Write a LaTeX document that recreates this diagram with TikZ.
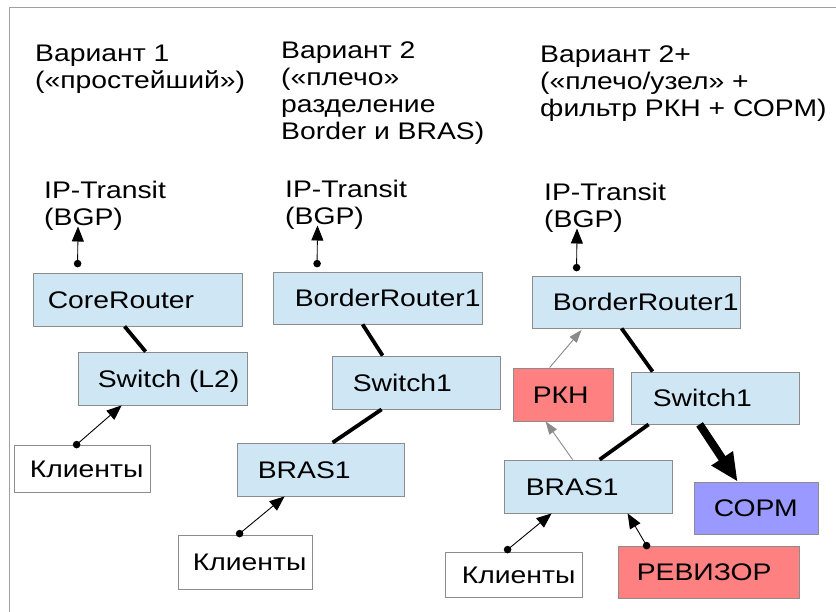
\documentclass[tikz,border=0pt]{standalone}
\usepackage{fontspec}
\setmainfont{Liberation Sans}[FakeStretch=1.18]
\usetikzlibrary{arrows.meta}
\definecolor{boxblue}{HTML}{CFE7F5}
\definecolor{boxred}{HTML}{FF8080}
\definecolor{boxviolet}{HTML}{9999FF}
\definecolor{edgegray}{HTML}{8C8C8C}
\definecolor{framegray}{HTML}{A0A0A0}
\definecolor{arrowgray}{HTML}{8A8A8A}
\begin{document}
\begin{tikzpicture}[x=1pt,y=-1pt,
  txt/.style={font=\fontsize{24pt}{26.7pt}\selectfont, inner sep=0pt},
  title/.style={txt, anchor=north west, align=left},
  lbl/.style={txt, anchor=west, text height=17.2pt, text depth=0pt},
  bx/.style={draw=edgegray, line width=0.8pt, fill=boxblue, inner sep=0pt},
  wbx/.style={bx, fill=white},
  rbx/.style={bx, fill=boxred},
  vbx/.style={bx, fill=boxviolet},
  ar/.style={-{Triangle[length=15pt,width=12pt]}, line width=0.9pt, black},
  gar/.style={-{Triangle[length=13pt,width=9pt]}, line width=0.9pt, arrowgray},
  thk/.style={line width=3.8pt, black},
  bigar/.style={-{Triangle[length=28pt,width=24pt]}, line width=8pt, black},
  dotr/.style={black}
]
\path[use as bounding box, fill=white] (0,0) rectangle (836,612);
\draw[framegray, line width=1pt] (836,8) -- (9,8) -- (9,612);

% titles
\node[title] (t1) at (35,45) {Вариант 1\\(«простейший»)};
\node[title] (t2) at (281,42) {Вариант 2\\(«плечо»\\разделение\\Border и BRAS)};
\node[title] (t3) at (540,46) {Вариант 2+\\(«плечо/узел» +\\фильтр РКН + СОРМ)};

% IP transit labels
\node[title] (ipt1) at (44,181) {IP-Transit\\(BGP)};
\node[title] (ipt2) at (285,180) {IP-Transit\\(BGP)};
\node[title] (ipt3) at (544,183) {IP-Transit\\(BGP)};

% column 1
\node[bx, minimum width=209, minimum height=53] (core) at (137.5,299.5) {};
\node[lbl] (coreT) at ([xshift=15pt]core.west) {CoreRouter};
\node[bx, minimum width=169, minimum height=53] (sw1) at (162.5,378.5) {};
\node[lbl] (sw1T) at ([xshift=20pt]sw1.west) {Switch (L2)};
\node[wbx, minimum width=136, minimum height=47] (kl1) at (82,468.5) {};
\node[lbl] (kl1T) at ([xshift=16pt]kl1.west) {Клиенты};

% column 2
\node[bx, minimum width=209, minimum height=52] (br2) at (377.5,298) {};
\node[lbl] (br2T) at ([xshift=22pt]br2.west) {BorderRouter1};
\node[bx, minimum width=168, minimum height=53] (sw2) at (416,382.5) {};
\node[lbl] (sw2T) at ([xshift=21pt]sw2.west) {Switch1};
\node[bx, minimum width=167, minimum height=53] (bras2) at (320.5,469.5) {};
\node[lbl] (bras2T) at ([xshift=21pt]bras2.west) {BRAS1};
\node[wbx, minimum width=134, minimum height=54] (kl2) at (245,562) {};
\node[lbl] (kl2T) at ([xshift=15pt]kl2.west) {Клиенты};

% column 3
\node[bx, minimum width=208, minimum height=52] (br3) at (636,302) {};
\node[lbl] (br3T) at ([xshift=21pt]br3.west) {BorderRouter1};
\node[rbx, minimum width=100, minimum height=53] (rkn) at (563,394.5) {};
\node[lbl] (rknT) at ([xshift=20pt]rkn.west) {РКН};
\node[bx, minimum width=168, minimum height=52] (sw3) at (715,398) {};
\node[lbl] (sw3T) at ([xshift=22pt]sw3.west) {Switch1};
\node[bx, minimum width=168, minimum height=53] (bras3) at (588,486.5) {};
\node[lbl] (bras3T) at ([xshift=22pt]bras3.west) {BRAS1};
\node[vbx, minimum width=124, minimum height=52] (sorm) at (756,508) {};
\node[lbl] (sormT) at ([xshift=20pt]sorm.west) {СОРМ};
\node[wbx, minimum width=137, minimum height=45] (kl3) at (513.5,574.5) {};
\node[lbl] (kl3T) at ([xshift=17pt]kl3.west) {Клиенты};
\node[rbx, minimum width=181, minimum height=52] (rev) at (708.5,572) {};
\node[lbl] (revT) at ([xshift=19pt]rev.west) {РЕВИЗОР};

% column 1 connectors
\coordinate (ip1) at (78,226.5);
\coordinate (d1) at ([xshift=45pt,yshift=9pt]core.north west);
\draw[ar] (d1) -- (ip1);
\fill[dotr] (d1) circle (3.8pt);
\draw[thk] ([xshift=92pt]core.south west) -- ([xshift=68pt]sw1.north west);
\coordinate (dk1) at ([xshift=63pt]kl1.north west);
\draw[ar] (dk1) -- ([xshift=44pt]sw1.south west);
\fill[dotr] (dk1) circle (3.8pt);

% column 2 connectors
\coordinate (ip2) at (317.5,225.5);
\coordinate (d2) at ([xshift=44.5pt,yshift=8pt]br2.north west);
\draw[ar] (d2) -- (ip2);
\fill[dotr] (d2) circle (3.8pt);
\draw[thk] ([xshift=90pt]br2.south west) -- ([xshift=51pt]sw2.north west);
\draw[thk] ([xshift=50pt]sw2.south west) -- ([xshift=96pt]bras2.north west);
\coordinate (dk2) at ([xshift=62pt,yshift=1pt]kl2.north west);
\draw[ar] (dk2) -- ([xshift=48pt]bras2.south west);
\fill[dotr] (dk2) circle (3.8pt);

% column 3 connectors
\coordinate (ip3) at (577,228.5);
\coordinate (d3) at ([xshift=45pt,yshift=8pt]br3.north west);
\draw[ar] (d3) -- (ip3);
\fill[dotr] (d3) circle (3.8pt);
\draw[gar] ([xshift=37pt]rkn.north west) -- ([xshift=50pt,yshift=-1.5pt]br3.south west);
\draw[gar] ([xshift=69pt]bras3.north west) -- ([xshift=33pt]rkn.south west);
\draw[thk] ([xshift=90pt]br3.south west) -- ([xshift=22pt]sw3.north west);
\draw[thk] ([xshift=18pt]sw3.south west) -- ([xshift=96pt]bras3.north west);
\draw[bigar] ([xshift=69pt]sw3.south west) -- ([xshift=44pt]sorm.north west);
\coordinate (dk3) at ([xshift=63pt,yshift=2pt]kl3.north west);
\draw[ar] (dk3) -- ([xshift=48pt]bras3.south west);
\fill[dotr] (dk3) circle (3.8pt);
\coordinate (dr) at ([xshift=29pt]rev.north west);
\draw[ar] (dr) -- ([xshift=124pt]bras3.south west);
\fill[dotr] (dr) circle (3.8pt);
\end{tikzpicture}
\end{document}
